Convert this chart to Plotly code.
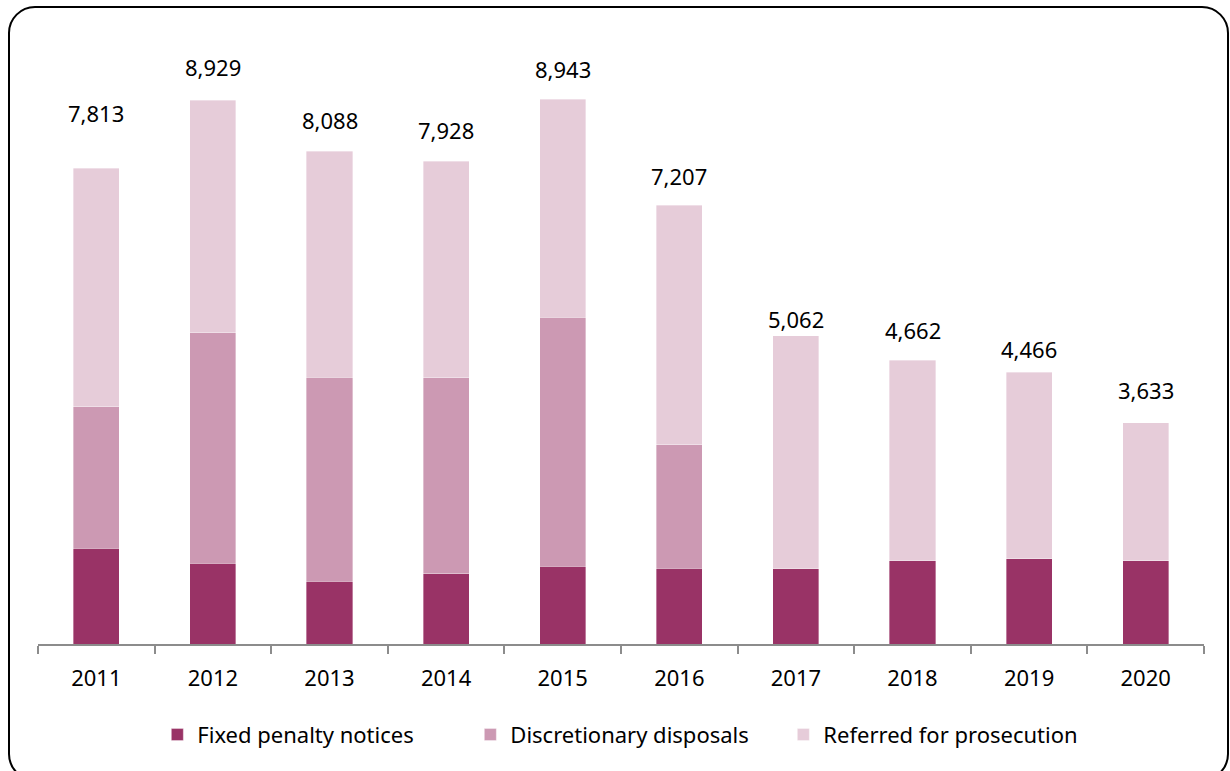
import plotly.graph_objects as go

# Yearly outcomes, stacked per year
years = ["2011", "2012", "2013", "2014", "2015", "2016", "2017", "2018", "2019", "2020"]
fixed_penalty = [1571, 1330, 1029, 1155, 1276, 1248, 1248, 1374, 1396, 1368]
discretionary = [2325, 3777, 3355, 3213, 4093, 2020, 0, 0, 0, 0]
referred = [3917, 3822, 3704, 3560, 3574, 3939, 3814, 3288, 3070, 2265]

# Pixel gap between each total label and the top of its bar
label_gap_px = [55, 33, 31, 31, 30, 29, 17, 30, 23, 33]

FONT = "Noto Sans"
FS = 22
W, H = 1230, 771
ML, MR, MT, MB = 38, 26, 35, 127
YMAX = 10000

totals = [a + b + c for a, b, c in zip(fixed_penalty, discretionary, referred)]

fig = go.Figure()
series = [
    ("Fixed penalty notices", fixed_penalty, "#993366"),
    ("Discretionary disposals", discretionary, "#CC99B3"),
    ("Referred for prosecution", referred, "#E6CCD9"),
]
for name, vals, col in series:
    fig.add_trace(go.Bar(
        x=years, y=vals, name=name,
        marker=dict(color=col, line=dict(color="rgba(255,255,255,0.6)", width=0.6)),
        hoverinfo="x+y+name",
    ))

# Total labels above each stack (x given as category index)
for i, (tot, gap) in enumerate(zip(totals, label_gap_px)):
    fig.add_annotation(
        x=i, y=tot, xref="x", yref="y", text=f"{tot:,}", showarrow=False,
        yanchor="middle", yshift=gap,
        font=dict(family=FONT, size=FS, color="#000000"),
    )

# Rounded frame around the whole chart, drawn in paper coordinates
pw = W - ML - MR
ph = H - MT - MB


def px(x):
    return (x - ML) / pw


def py(y):
    return (H - MB - y) / ph


left, top, right, bottom, r = 9, 7, 1228, 780, 26
k = 0.5523 * r
path = (
    f"M {px(left + r)},{py(top)} "
    f"L {px(right - r)},{py(top)} "
    f"C {px(right - r + k)},{py(top)} {px(right)},{py(top + r - k)} {px(right)},{py(top + r)} "
    f"L {px(right)},{py(bottom - r)} "
    f"C {px(right)},{py(bottom - r + k)} {px(right - r + k)},{py(bottom)} {px(right - r)},{py(bottom)} "
    f"L {px(left + r)},{py(bottom)} "
    f"C {px(left + r - k)},{py(bottom)} {px(left)},{py(bottom - r + k)} {px(left)},{py(bottom - r)} "
    f"L {px(left)},{py(top + r)} "
    f"C {px(left)},{py(top + r - k)} {px(left + r - k)},{py(top)} {px(left + r)},{py(top)} Z"
)
fig.add_shape(type="path", xref="paper", yref="paper", path=path,
              line=dict(color="#000000", width=2), layer="above")

fig.update_layout(
    width=W, height=H,
    margin=dict(l=ML, r=MR, t=MT, b=MB),
    barmode="stack",
    bargap=0.605,
    plot_bgcolor="#FFFFFF",
    paper_bgcolor="#FFFFFF",
    font=dict(family=FONT, size=FS, color="#000000"),
    showlegend=True,
    legend=dict(
        orientation="h", x=0.505, xanchor="center", y=-0.149, yanchor="middle",
        font=dict(family=FONT, size=FS, color="#000000"),
        traceorder="normal", itemclick=False, itemdoubleclick=False,
        entrywidth=268, entrywidthmode="pixels",
    ),
    xaxis=dict(
        type="category", range=[-0.5, 9.5],
        showline=True, linecolor="#8C8C8C", linewidth=1.5,
        ticks="outside", tickson="boundaries", ticklen=8, tickcolor="#8C8C8C", tickwidth=1.5,
        ticklabelstandoff=14,
        tickfont=dict(family=FONT, size=FS, color="#000000"),
        showgrid=False, zeroline=False, fixedrange=True,
    ),
    yaxis=dict(
        range=[0, YMAX], visible=False, showgrid=False, zeroline=False, fixedrange=True,
    ),
)

fig.write_html("out.html")
